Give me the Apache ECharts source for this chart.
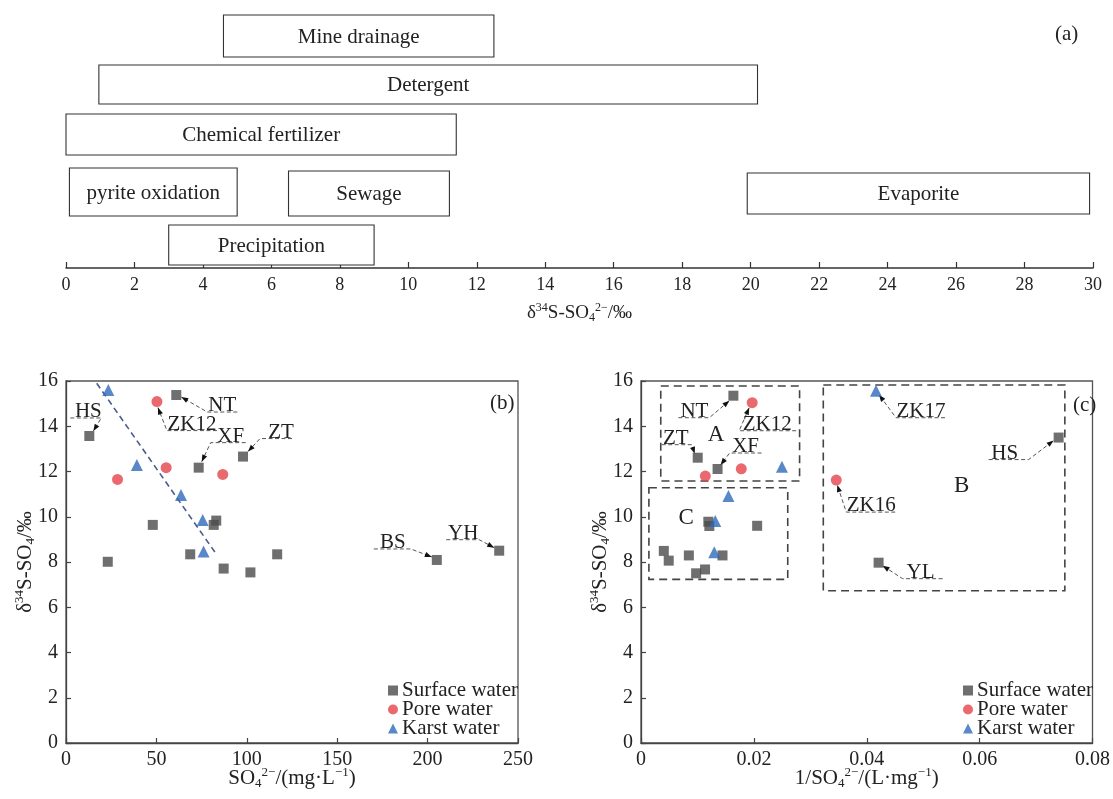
<!DOCTYPE html>
<html>
<head>
<meta charset="utf-8">
<script src="https://cdn.jsdelivr.net/npm/echarts@6/dist/echarts.min.js"></script>
<style>
html,body{margin:0;padding:0;background:#fff;}
#main{width:1113px;height:799px;}
</style>
</head>
<body>
<div id="main"></div>
<script>
// ---------- DATA ----------
// Panel (a): δ34S ranges of sulfate sources (‰)
const sourceNames = ['Mine drainage','Detergent','Chemical fertilizer','pyrite oxidation','Sewage','Evaporite','Precipitation'];
const sourceMin   = [4.6, 0.96, 0.0, 0.1, 6.5, 19.9, 3.0];
const sourceMax   = [12.5, 20.2, 11.4, 5.0, 11.2, 29.9, 9.0];

// Panel (b): SO4 (mg/L) vs δ34S (‰)
const surfB_x  = [61.0, 12.9, 97.9, 73.4, 48.0, 83.1, 81.7, 68.7, 23.1, 87.2, 102.0, 116.8, 205.1, 239.6];
const surfB_y  = [15.38, 13.57, 12.66, 12.17, 9.64, 9.83, 9.64, 8.34, 8.01, 7.71, 7.54, 8.34, 8.09, 8.50];
const poreB_x  = [50.3, 28.5, 55.4, 86.7];
const poreB_y  = [15.09, 11.65, 12.17, 11.87];
const karstB_x = [23.4, 39.2, 63.6, 75.6, 76.1];
const karstB_y = [15.6, 12.29, 10.96, 9.86, 8.46];
const trendB_x = [17.0, 82.6];
const trendB_y = [15.9, 8.41];

// Panel (c): 1/SO4 (L/mg) vs δ34S (‰)
const surfC_x  = [0.01637, 0.01005, 0.01357, 0.01193, 0.01211, 0.02058, 0.00404, 0.00491, 0.00848, 0.01444, 0.00977, 0.01135, 0.0740, 0.0421];
const surfC_y  = [15.35, 12.61, 12.11, 9.78, 9.59, 9.60, 8.49, 8.06, 8.29, 8.29, 7.50, 7.67, 13.50, 7.97];
const poreC_x  = [0.0197, 0.0114, 0.01777, 0.0346];
const poreC_y  = [15.04, 11.80, 12.12, 11.62];
const karstC_x = [0.04164, 0.02497, 0.01549, 0.01316, 0.01298];
const karstC_y = [15.57, 12.21, 10.92, 9.81, 8.43];

// Group boxes in (c)
const groupNames  = ['A', 'B', 'C'];
const groupX1     = [0.0035, 0.0323, 0.0014];
const groupX2     = [0.0281, 0.0751, 0.0260];
const groupY1     = [11.58, 6.73, 7.23];
const groupY2     = [15.78, 15.82, 11.28];
const groupLabelX = [0.0133, 0.0568, 0.0080];
const groupLabelY = [13.61, 11.36, 9.93];

// Tick labels
const ticksA = [0,2,4,6,8,10,12,14,16,18,20,22,24,26,28,30];
const ticksB = [0,50,100,150,200,250];
const ticksC = ['0','0.02','0.04','0.06','0.08'];

// ---------- STYLE / LAYOUT ----------
const FONT = '"Liberation Serif", "Times New Roman", serif';
const FS = 21;
const C_SURF = '#4b4b4b', C_PORE = '#e5434a', C_KARST = '#2f6abb';
const BOX_TOP = [15, 65, 114, 168, 171, 173, 225];
const BOX_BOT = [57, 104, 155, 216, 216, 214, 265];

// Annotation layout (pixel offsets relative to labelled point)
const annB = [
  {arr:'surfB', i:1,  text:'HS',   u:[-19,12], uy:-18, from:'r', tip:[4,-5],  tx:-1},
  {arr:'surfB', i:0,  text:'NT',   u:[31,61],  uy:17,  from:'l', tip:[5,2],   tx:46},
  {arr:'poreB', i:0,  text:'ZK12', u:[10,60],  uy:29,  from:'l', tip:[1,6],   tx:35},
  {arr:'surfB', i:3,  text:'XF',   u:[12,47],  uy:-25, from:'l', tip:[3,-6],  tx:32},
  {arr:'surfB', i:2,  text:'ZT',   u:[17,49],  uy:-18, from:'l', tip:[5,-5],  tx:38},
  {arr:'surfB', i:12, text:'BS',   u:[-63,-26],uy:-11, from:'r', tip:[-5,-3], tx:-44},
  {arr:'surfB', i:13, text:'YH',   u:[-53,-20],uy:-11, from:'r', tip:[-5,-3], tx:-36}
];
const annC = [
  {arr:'surfC', i:0,  text:'NT',   u:[-55,-24],uy:22,  from:'r', tip:[-4,5],  tx:-39},
  {arr:'poreC', i:0,  text:'ZK12', u:[-13,44], uy:28,  from:'l', tip:[-3,5],  tx:15},
  {arr:'surfC', i:1,  text:'ZT',   u:[-36,-6], uy:-13, from:'r', tip:[-3,-4], tx:-22},
  {arr:'surfC', i:2,  text:'XF',   u:[12,44],  uy:-16, from:'l', tip:[3,-4],  tx:28},
  {arr:'karstC',i:0,  text:'ZK17', u:[20,69],  uy:27,  from:'l', tip:[3,4],   tx:45},
  {arr:'surfC', i:12, text:'HS',   u:[-70,-30],uy:22,  from:'r', tip:[-5,3],  tx:-54},
  {arr:'poreC', i:3,  text:'ZK16', u:[10,59],  uy:32,  from:'l', tip:[1,5],   tx:35},
  {arr:'surfC', i:13, text:'YL',   u:[24,64],  uy:16,  from:'l', tip:[4,3],   tx:42}
];
const ARR = {
  surfB:[surfB_x,surfB_y], poreB:[poreB_x,poreB_y], karstB:[karstB_x,karstB_y],
  surfC:[surfC_x,surfC_y], poreC:[poreC_x,poreC_y], karstC:[karstC_x,karstC_y]
};
const zip = (xs, ys) => xs.map((v,i)=>[v, ys[i]]);

function annRender(cfgs){
  return function(params, api){
    const c = cfgs[params.dataIndex];
    const p = api.coord([api.value(0), api.value(1)]);
    const ux1 = p[0]+c.u[0], ux2 = p[0]+c.u[1], uy = p[1]+c.uy;
    const start = c.from==='l' ? [ux1,uy] : [ux2,uy];
    const other = c.from==='l' ? [ux2,uy] : [ux1,uy];
    const tip = [p[0]+c.tip[0], p[1]+c.tip[1]];
    const ang = Math.atan2(tip[1]-start[1], tip[0]-start[0]);
    const L = 7, W = 2.6;
    const bx = tip[0]-L*Math.cos(ang), by = tip[1]-L*Math.sin(ang);
    const nx = -Math.sin(ang)*W, ny = Math.cos(ang)*W;
    return {type:'group', children:[
      {type:'polyline', shape:{points:[other,start,tip]}, style:{stroke:'#555', lineWidth:1, lineDash:[4,2.5], fill:null}},
      {type:'polygon', shape:{points:[tip,[bx+nx,by+ny],[bx-nx,by-ny]]}, style:{fill:'#111'}},
      {type:'text', style:{text:c.text, x:p[0]+c.tx, y:uy+4, align:'center', verticalAlign:'bottom', font:FS+'px '+FONT, fill:'#222'}}
    ]};
  };
}

const sup = {fontSize:13, fontFamily:FONT, color:'#222', padding:[0,0,11,0]};
const sub = {fontSize:13, fontFamily:FONT, color:'#222', padding:[11,0,0,0]};
const nameStyle = {fontSize:FS, fontFamily:FONT, color:'#222', rich:{sup:sup, sub:sub}};
const nameStyleA = {fontSize:19, fontFamily:FONT, color:'#222', rich:{sup:{fontSize:12, fontFamily:FONT, color:'#222', padding:[0,0,10,0]}, sub:{fontSize:12, fontFamily:FONT, color:'#222', padding:[10,0,0,0]}}};
const yName = 'δ{sup|34}S-SO{sub|4}/‰';

const axisCommon = {
  axisLine:{show:true, onZero:false, lineStyle:{color:'#444', width:1.3}},
  axisTick:{show:true, inside:true, length:5, lineStyle:{color:'#444', width:1.2}},
  splitLine:{show:false},
  nameMoveOverlap:false
};
const tickLabel = {fontSize:20, fontFamily:FONT, color:'#222'};

const scatterSeries = (name, sym, size, color, data, xi) => ({
  name:name, type:'scatter', xAxisIndex:xi, yAxisIndex:xi, symbol:sym, symbolSize:size,
  itemStyle:{color:color}, data:data, z:5
});
const legendStyle = {fontSize:FS, fontFamily:FONT, color:'#222', padding:[0,0,0,-1]};

const chart = echarts.init(document.getElementById('main'));
const option = {
  animation:false,
  backgroundColor:'#fff',
  title:[
    {text:'(a)', left:1050, top:19, textStyle:{fontSize:FS, fontWeight:'normal', fontFamily:FONT, color:'#222'}},
    {text:'(b)', left:485, top:388, textStyle:{fontSize:FS, fontWeight:'normal', fontFamily:FONT, color:'#222'}},
    {text:'(c)', left:1068, top:390, textStyle:{fontSize:FS, fontWeight:'normal', fontFamily:FONT, color:'#222'}}
  ],
  legend:[
    {orient:'vertical', left:383, top:675, itemGap:-2, itemWidth:10, itemHeight:10, textStyle:legendStyle,
     data:['Surface water','Pore water','Karst water']},
    {orient:'vertical', left:958, top:675, itemGap:-2, itemWidth:10, itemHeight:10, textStyle:legendStyle,
     data:['Surface water','Pore water','Karst water']}
  ],
  grid:[
    {left:66, top:10, width:1027, height:258},
    {left:66, top:381, width:452, height:362, show:true, borderColor:'#555', borderWidth:1.3, backgroundColor:'transparent'},
    {left:641, top:381, width:455, height:362, show:true, borderColor:'#555', borderWidth:1.3, backgroundColor:'transparent'}
  ],
  xAxis:[
    Object.assign({}, axisCommon, {gridIndex:0, type:'value', min:ticksA[0], max:ticksA[ticksA.length-1], interval:ticksA[1]-ticksA[0],
      axisTick:{show:true, inside:true, length:6, lineStyle:{color:'#333', width:1.2}},
      axisLine:{show:true, onZero:false, lineStyle:{color:'#333', width:1.5}},
      axisLabel:{fontSize:18, fontFamily:FONT, color:'#222', margin:8},
      nameMoveOverlap:true,
      name:'δ{sup|34}S-SO{sub|4}{sup|2−}/‰', nameLocation:'middle', nameGap:34, nameTextStyle:nameStyleA}),
    Object.assign({}, axisCommon, {gridIndex:1, type:'value', min:ticksB[0], max:ticksB[ticksB.length-1], interval:ticksB[1]-ticksB[0],
      axisLabel:Object.assign({margin:7}, tickLabel),
      name:'SO{sub|4}{sup|2−}/(mg·L{sup|−1})', nameLocation:'middle', nameGap:23, nameTextStyle:nameStyle}),
    Object.assign({}, axisCommon, {gridIndex:2, type:'value', min:0, max:Number(ticksC[ticksC.length-1]), interval:Number(ticksC[1]),
      axisLabel:Object.assign({margin:7, formatter:(v)=>{
        const idx = Math.round(v/Number(ticksC[1])); return ticksC[idx] !== undefined ? ticksC[idx] : ''; }}, tickLabel),
      name:'1/SO{sub|4}{sup|2−}/(L·mg{sup|−1})', nameLocation:'middle', nameGap:23, nameTextStyle:nameStyle})
  ],
  yAxis:[
    {gridIndex:0, type:'value', min:0, max:1, show:false},
    Object.assign({}, axisCommon, {gridIndex:1, type:'value', min:0, max:16, interval:2,
      axisLabel:Object.assign({margin:8}, tickLabel),
      name:yName, nameLocation:'middle', nameGap:29, nameTextStyle:nameStyle}),
    Object.assign({}, axisCommon, {gridIndex:2, type:'value', min:0, max:16, interval:2,
      axisLabel:Object.assign({margin:8}, tickLabel),
      name:yName, nameLocation:'middle', nameGap:29, nameTextStyle:nameStyle})
  ],
  series:[
    // Panel (a) source ranges
    {type:'custom', xAxisIndex:0, yAxisIndex:0, clip:false,
     data: sourceMin.map((v,i)=>[v, sourceMax[i]]),
     encode:{x:[0,1]},
     renderItem:function(params, api){
       const i = params.dataIndex;
       const x1 = api.coord([api.value(0), 0])[0];
       const x2 = api.coord([api.value(1), 0])[0];
       const t = BOX_TOP[i], b = BOX_BOT[i];
       return {type:'group', children:[
         {type:'rect', shape:{x:x1, y:t, width:x2-x1, height:b-t}, style:{fill:'#fff', stroke:'#333', lineWidth:1.1}},
         {type:'text', style:{text:sourceNames[i], x:(x1+x2)/2, y:(t+b)/2+1, align:'center', verticalAlign:'middle', font:FS+'px '+FONT, fill:'#222'}}
       ]};
     }},
    // Panel (b)
    {type:'line', xAxisIndex:1, yAxisIndex:1, data:zip(trendB_x, trendB_y), symbol:'none', silent:true,
     lineStyle:{color:'#4a5d8c', width:1.6, type:[6,4]}, z:3},
    scatterSeries('Surface water','rect',10,C_SURF, zip(surfB_x,surfB_y),1),
    scatterSeries('Pore water','circle',11,C_PORE, zip(poreB_x,poreB_y),1),
    scatterSeries('Karst water','triangle',12,C_KARST, zip(karstB_x,karstB_y),1),
    {type:'custom', xAxisIndex:1, yAxisIndex:1, clip:false, silent:true, z:4,
     data: annB.map(a=>[ARR[a.arr][0][a.i], ARR[a.arr][1][a.i]]),
     renderItem: annRender(annB)},
    // Panel (c)
    {type:'custom', xAxisIndex:2, yAxisIndex:2, clip:false, silent:true, z:2,
     data: groupNames.map((n,i)=>[groupX1[i], groupY1[i], groupX2[i], groupY2[i], groupLabelX[i], groupLabelY[i]]),
     encode:{x:[0,2,4], y:[1,3,5]},
     renderItem:function(params, api){
       const i = params.dataIndex;
       const p1 = api.coord([api.value(0), api.value(1)]);
       const p2 = api.coord([api.value(2), api.value(3)]);
       const pl = api.coord([api.value(4), api.value(5)]);
       return {type:'group', children:[
         {type:'rect', shape:{x:Math.min(p1[0],p2[0]), y:Math.min(p1[1],p2[1]), width:Math.abs(p2[0]-p1[0]), height:Math.abs(p2[1]-p1[1])},
          style:{fill:null, stroke:'#444', lineWidth:1.6, lineDash:[8,5]}},
         {type:'text', style:{text:groupNames[i], x:pl[0], y:pl[1], align:'center', verticalAlign:'middle', font:'23px '+FONT, fill:'#222'}}
       ]};
     }},
    scatterSeries('Surface water','rect',10,C_SURF, zip(surfC_x,surfC_y),2),
    scatterSeries('Pore water','circle',11,C_PORE, zip(poreC_x,poreC_y),2),
    scatterSeries('Karst water','triangle',12,C_KARST, zip(karstC_x,karstC_y),2),
    {type:'custom', xAxisIndex:2, yAxisIndex:2, clip:false, silent:true, z:4,
     data: annC.map(a=>[ARR[a.arr][0][a.i], ARR[a.arr][1][a.i]]),
     renderItem: annRender(annC)}
  ]
};
chart.setOption(option);
</script>
</body>
</html>
